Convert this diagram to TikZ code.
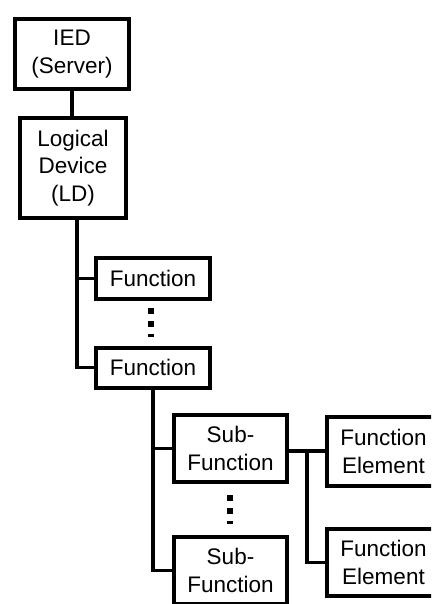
\documentclass[tikz,border=0pt]{standalone}
\usepackage{fontspec}
\setmainfont{Liberation Sans}
\begin{document}
\begin{tikzpicture}[x=1pt,y=-1pt,
  box/.style={draw=black,line width=4pt,rectangle,inner sep=0pt,align=center,
    font=\fontsize{22.5}{27.5}\selectfont},
  conn/.style={draw=black,line width=3.5pt},
  vdots/.style={draw=black,line width=6pt,dash pattern=on 6pt off 7pt}]
\useasboundingbox (0,0) rectangle (431,604);
\clip (0,0) rectangle (431,604);
\fill[white] (0,0) rectangle (431,604);
% nodes
\node[box,minimum width=114pt,minimum height=70pt] (ied) at (72,54) {IED\\(Server)};
\node[box,minimum width=106pt,minimum height=100pt] (ld) at (73,168) {Logical\\Device\\(LD)};
\node[box,minimum width=114pt,minimum height=41pt] (f1) at (153,278.5) {Function};
\node[box,minimum width=114pt,minimum height=40pt] (f2) at (153,367.5) {Function};
\node[box,minimum width=113pt,minimum height=67pt] (sf1) at (230.5,448.5) {Sub-\\Function};
\node[box,minimum width=113pt,minimum height=67pt] (sf2) at (230.5,570.5) {Sub-\\Function};
\node[box,minimum width=114pt,minimum height=69pt] (fe1) at (383.5,451.5) {Function\\Element};
\node[box,minimum width=114pt,minimum height=67pt] (fe2) at (383.5,562.5) {Function\\Element};
% junction coordinates
\coordinate (ldx) at (77,220);
\coordinate (fx) at (153,389);
\coordinate (sfj) at (307,451);
% connectors
\draw[conn] (ied.south) -- (ied.south |- ld.north);
\draw[conn] (ld.south -| ldx) -- (ldx |- f2.west) -- (f2.west);
\draw[conn] (ldx |- f1.west) -- (f1.west);
\draw[conn] (f2.south) -- (f2.south |- sf2.west) -- (sf2.west);
\draw[conn] (f2.south |- sf1.west) -- (sf1.west);
\draw[conn] (sf1.east |- sfj) -- (fe1.west |- sfj);
\draw[conn] (sfj) -- (sfj |- fe2.west) -- (fe2.west);
% ellipsis dots
\coordinate (d1a) at (151,308);
\coordinate (d1b) at (151,337);
\coordinate (d2a) at (230,495);
\coordinate (d2b) at (230,524);
\draw[vdots] (d1a) -- (d1b);
\draw[vdots] (d2a) -- (d2b);
\end{tikzpicture}
\end{document}
